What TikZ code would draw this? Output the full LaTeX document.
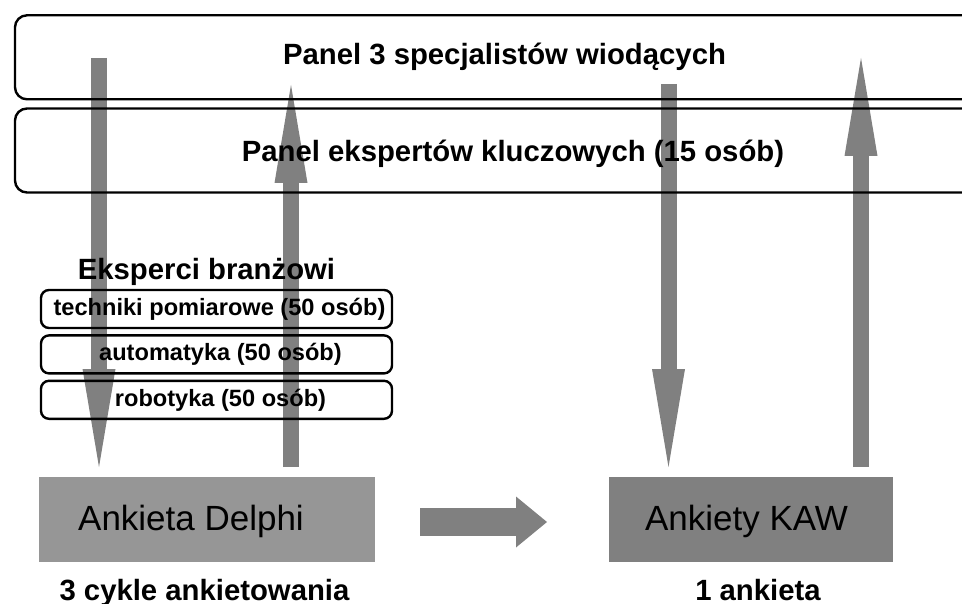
\documentclass[tikz,border=0pt]{standalone}
\usepackage{fontspec}
\setmainfont{Liberation Sans}
\usetikzlibrary{positioning, arrows.meta}
\definecolor{arrowgray}{HTML}{808080}
\definecolor{delphigray}{HTML}{969696}
\definecolor{kawgray}{HTML}{808080}
\tikzstyle{panel} = [rectangle, rounded corners=12pt, minimum width=960pt, minimum height=84pt, inner sep=0pt, draw=black, line width=2.4pt]
\tikzstyle{paneltext} = [font=\fontsize{29.3}{34}\selectfont\bfseries, anchor=base, inner sep=0pt]
\tikzstyle{group} = [rectangle, rounded corners=8pt, minimum width=351pt, minimum height=38pt, inner sep=0pt, draw=black, line width=2.4pt, font=\fontsize{23.6}{27}\selectfont\bfseries]
\tikzstyle{survey} = [rectangle, minimum height=85pt, inner sep=0pt]
\tikzstyle{surveytext} = [font=\fontsize{35}{40}\selectfont, inner sep=0pt]
\tikzstyle{caption} = [font=\fontsize{29.3}{34}\selectfont\bfseries, anchor=base, inner sep=0pt]
\tikzstyle{bigarrow} = [draw=arrowgray, line width=16pt, -{Triangle[width=33pt,length=98pt,line width=0pt]}]
\tikzstyle{fatarrow} = [draw=arrowgray, line width=28pt, -{Triangle[width=51pt,length=31pt,line width=0pt]}]

\begin{document}
\begin{tikzpicture}[x=1pt, y=-1pt]
\clip (0,0) rectangle (962,604);

% arrow ends
\coordinate (d1top) at (99,58);
\coordinate (d1end) at (99,467);
\coordinate (u1bot) at (291,467);
\coordinate (u1end) at (291,85);
\coordinate (d2top) at (668.5,84);
\coordinate (d2end) at (668.5,467);
\coordinate (u2bot) at (861,467);
\coordinate (u2end) at (861,58);

\draw [bigarrow] (d1top) -- (d1end);
\draw [bigarrow] (u1bot) -- (u1end);
\draw [bigarrow] (d2top) -- (d2end);
\draw [bigarrow] (u2bot) -- (u2end);

% panels
\node (lead) [panel] at (495,57.3) {};
\node (key) [panel] at (495,150.5) {};
\node (leadt) [paneltext] at (504.5,65) {Panel 3 specjalistów wiodących};
\node (keyt) [paneltext] at (513,162) {Panel ekspertów kluczowych (15 osób)};

% branch experts
\node (tech) [group] at (216.5,309) {\hspace*{6pt}techniki pomiarowe (50 osób)};
\node (auto) [group, below=5pt of tech] {\hspace*{8pt}automatyka (50 osób)};
\node (robo) [group, below=5pt of auto] {\hspace*{8pt}robotyka (50 osób)};
\node (expt) [caption] at (206.5,280) {Eksperci branżowi};

% surveys
\node (delphi) [survey, minimum width=336pt, fill=delphigray] at (207,519.5) {};
\node (kaw) [survey, minimum width=284pt, fill=kawgray] at (751,519.5) {};
\node (delphit) [surveytext, xshift=-16pt, yshift=-2pt] at (delphi) {Ankieta Delphi};
\node (kawt) [surveytext, xshift=-4.5pt, yshift=-2pt] at (kaw) {Ankiety KAW};
\node (cycles) [caption] at ([xshift=-2.5pt, yshift=-38pt]delphi.south) {3 cykle ankietowania};
\node (one) [caption] at ([xshift=7pt, yshift=-38pt]kaw.south) {1 ankieta};

\coordinate (hstart) at (420,522);
\coordinate (hend) at (547,522);
\draw [fatarrow] (hstart) -- (hend);
\end{tikzpicture}
\end{document}
